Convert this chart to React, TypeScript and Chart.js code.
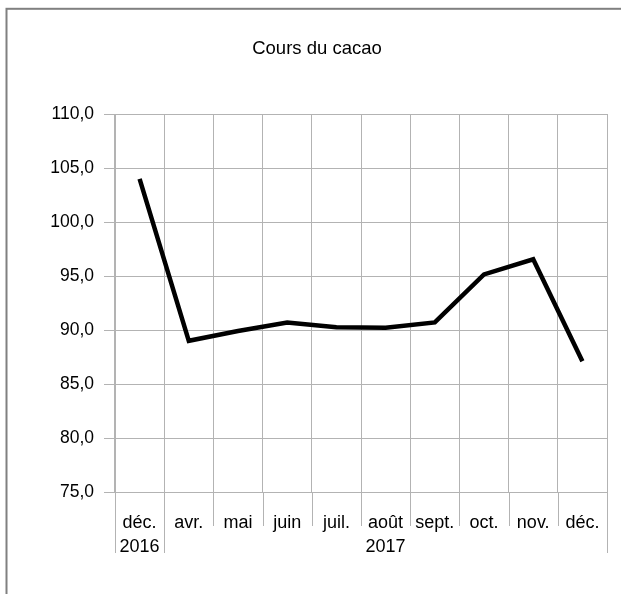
import { useEffect, useRef } from 'react';
import { Chart, registerables } from 'chart.js';

Chart.register(...registerables);

const title = 'Cours du cacao';
const months = ['déc.', 'avr.', 'mai', 'juin', 'juil.', 'août', 'sept.', 'oct.', 'nov.', 'déc.'];
const years = ['2016', '2017'];
const yearStarts = [0, 1];
const prices = [104.0, 89.0, 89.9, 90.7, 90.25, 90.2, 90.7, 95.15, 96.55, 87.1];
const yTicks = [75, 80, 85, 90, 95, 100, 105, 110];

const FONT = "'Liberation Sans', Arial, sans-serif";
const GRID = '#b3b3b3';

function buildLabels(): (string | string[])[] {
  const labels: (string | string[])[] = months.map((m) => [m]);
  yearStarts.forEach((start, gi) => {
    const end = gi + 1 < yearStarts.length ? yearStarts[gi + 1] - 1 : months.length - 1;
    const mid = (start + end) / 2;
    if (Number.isInteger(mid)) {
      labels[mid] = [months[mid], years[gi]];
    }
  });
  return labels;
}

const decor = {
  id: 'decor',
  afterDraw(chart: any) {
    const ctx = chart.ctx as CanvasRenderingContext2D;
    const xs = chart.scales.x;
    const area = chart.chartArea;
    ctx.save();
    ctx.strokeStyle = GRID;
    ctx.lineWidth = 1;
    const n = months.length;
    const groupBounds = new Set<number>([...yearStarts, n]);
    for (let i = 0; i <= n; i++) {
      const x = Math.round(xs.getPixelForValue(i - 0.5)) + 0.5;
      const len = groupBounds.has(i) ? 61 : 34;
      ctx.beginPath();
      ctx.moveTo(x, area.bottom);
      ctx.lineTo(x, area.bottom + len);
      ctx.stroke();
    }
    ctx.strokeStyle = '#808080';
    ctx.lineWidth = 2;
    ctx.strokeRect(6.5, 8.8, 1000, 1000);
    ctx.restore();
  },
};

export default function App() {
  const ref = useRef<HTMLCanvasElement | null>(null);
  useEffect(() => {
    document.body.style.margin = '0';
    const canvas = ref.current;
    if (!canvas) return;
    const chart = new Chart(canvas, {
      type: 'line',
      data: {
        labels: buildLabels(),
        datasets: [
          {
            data: prices,
            borderColor: '#000000',
            borderWidth: 4.5,
            pointRadius: 0,
            tension: 0,
            borderJoinStyle: 'miter',
            fill: false,
          },
        ],
      },
      options: {
        animation: false,
        responsive: true,
        maintainAspectRatio: false,
        layout: { padding: { left: 27, right: 14, top: 20, bottom: 0 } },
        plugins: {
          legend: { display: false },
          tooltip: { enabled: false },
          title: {
            display: true,
            text: title,
            color: '#000000',
            font: { family: FONT, size: 18.5, weight: 'normal', lineHeight: 1.2 },
            padding: { top: 18, bottom: 53.8 },
          },
        },
        scales: {
          x: {
            type: 'category',
            offset: true,
            grid: { offset: true, color: GRID, drawTicks: false, lineWidth: 1 },
            border: { display: true, color: GRID },
            ticks: {
              color: '#000000',
              font: { family: FONT, size: 18, lineHeight: 1.28 },
              padding: 20,
              maxRotation: 0,
              minRotation: 0,
              autoSkip: false,
            },
            afterFit: (s: any) => {
              s.height = 102;
            },
          },
          y: {
            min: 75,
            max: 110,
            afterBuildTicks: (s: any) => {
              s.ticks = yTicks.map((v) => ({ value: v }));
            },
            grid: { color: GRID, tickLength: 11, lineWidth: 1 },
            border: { display: true, color: GRID },
            ticks: {
              color: '#000000',
              font: { family: FONT, size: 17.5 },
              padding: 10,
              callback: (v: any) => Number(v).toFixed(1).replace('.', ','),
            },
            afterFit: (s: any) => {
              s.width = 88;
            },
          },
        },
      },
      plugins: [decor],
    });
    return () => chart.destroy();
  }, []);
  return (
    <div style={{ position: 'relative', width: 621, height: 594 }}>
      <canvas ref={ref} />
    </div>
  );
}
